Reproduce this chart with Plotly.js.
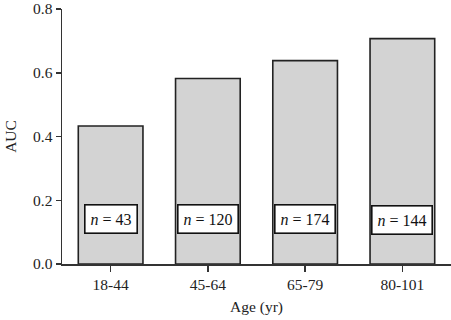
<!DOCTYPE html>
<html>
<head>
<meta charset="utf-8">
<script src="https://cdn.plot.ly/plotly-3.0.1.min.js"></script>
<style>
  html, body { margin: 0; padding: 0; background: #fff; }
  #chart { width: 451px; height: 320px; }
</style>
</head>
<body>
<div id="chart"></div>
<script>
// AUC by age group, with group sizes
const ageGroups = ["18-44", "45-64", "65-79", "80-101"];
const aucValues = [0.433, 0.582, 0.638, 0.707];
const groupSizes = [43, 120, 174, 144];
const labelLevel = [0.14, 0.14, 0.142, 0.139];
const yTickVals = [0, 0.2, 0.4, 0.6, 0.8];
const yTickText = ["0.0", "0.2", "0.4", "0.6", "0.8"];

const serif = "Liberation Serif, Times New Roman, serif";

const bars = {
  type: "bar",
  x: ageGroups,
  y: aucValues,
  width: 0.665,
  marker: {
    color: "#d3d3d3",
    line: { color: "#222222", width: 1.6 }
  },
  hoverinfo: "skip"
};

const annotations = ageGroups.map((g, i) => ({
  x: g,
  y: labelLevel[i],
  xref: "x",
  yref: "y",
  text: "<i>n</i> = " + groupSizes[i],
  showarrow: false,
  font: { family: serif, size: 16, color: "#111" },
  bgcolor: "#ffffff",
  bordercolor: "#111111",
  borderwidth: 1.6,
  borderpad: 5
}));

const layout = {
  width: 451,
  height: 320,
  margin: { l: 62, r: 0, t: 9, b: 56 },
  paper_bgcolor: "#fff",
  plot_bgcolor: "#fff",
  showlegend: false,
  font: { family: serif, size: 15.5, color: "#222" },
  xaxis: {
    type: "category",
    range: [-0.5, 3.5],
    showline: true,
    linecolor: "#333",
    linewidth: 1.5,
    ticks: "outside",
    ticklen: 6,
    tickwidth: 1.5,
    tickcolor: "#333",
    showgrid: false,
    zeroline: false,
    tickfont: { family: serif, size: 15.5, color: "#222" },
    title: { text: "Age (yr)", font: { family: serif, size: 15.5, color: "#222" }, standoff: 9 }
  },
  yaxis: {
    range: [0, 0.80001],
    tickvals: yTickVals,
    ticktext: yTickText,
    ticklabeloverflow: "allow",
    showline: true,
    linecolor: "#333",
    linewidth: 1.5,
    ticks: "outside",
    ticklen: 5,
    tickwidth: 1.5,
    tickcolor: "#333",
    showgrid: false,
    zeroline: false,
    tickfont: { family: serif, size: 15.5, color: "#222" },
    title: { text: "AUC", font: { family: serif, size: 15.5, color: "#222" }, standoff: 12 }
  },
  annotations: annotations
};

Plotly.newPlot("chart", [bars], layout, { displayModeBar: false, staticPlot: true });
</script>
</body>
</html>
